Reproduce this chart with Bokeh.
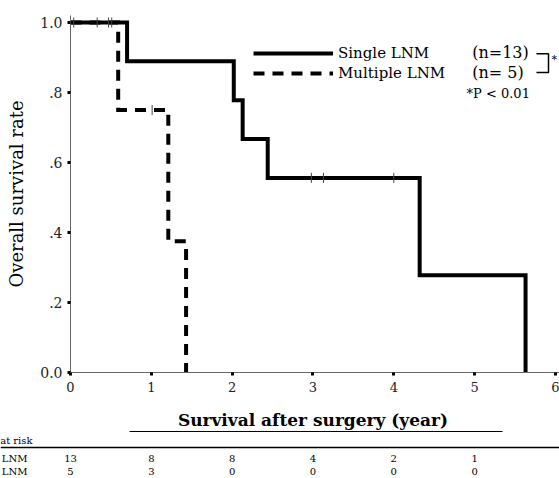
import numpy as np
from bokeh.plotting import figure
from bokeh.models import Range1d, FixedTicker, Legend, LegendItem, Label, PolyAnnotation
from bokeh.layouts import column
from bokeh.core.properties import value
from bokeh.embed import file_html
from bokeh.resources import INLINE

# ---- data ----
single_times = [0.0, 0.70, 2.02, 2.13, 2.44, 4.32, 5.63]
single_surv = [1.0, 0.889, 0.778, 0.667, 0.556, 0.278, 0.0]
multiple_times = [0.0, 0.59, 1.21, 1.43]
multiple_surv = [1.0, 0.75, 0.375, 0.0]
single_censor_times = [0.04, 0.33, 0.47, 0.51, 2.98, 3.13, 4.00]
single_censor_surv = [1.0, 1.0, 1.0, 1.0, 0.556, 0.556, 0.556]
multiple_censor_times = [1.01]
multiple_censor_surv = [0.75]
year_ticks = [0, 1, 2, 3, 4, 5, 6]
surv_ticks = [0.0, 0.2, 0.4, 0.6, 0.8, 1.0]
surv_tick_labels = ["0.0", ".2", ".4", ".6", ".8", "1.0"]
risk_years = [0, 1, 2, 3, 4, 5]
risk_single = [13, 8, 8, 4, 2, 1]
risk_multiple = [5, 3, 0, 0, 0, 0]
group_labels = ["Single LNM", "Multiple LNM"]
group_n = ["(n=13)", "(n= 5)"]
p_text = "*P < 0.01"
x_title = "Survival after surgery (year)"
y_title = "Overall survival rate"
risk_title = "Number at risk"

FONT = "DejaVu Serif"

# ---- main KM plot ----
p = figure(width=559, height=400, x_range=Range1d(0, 6.05), y_range=Range1d(0, 1.02),
           output_backend="svg", toolbar_location=None,
           min_border_left=70, min_border_right=0, min_border_top=15, min_border_bottom=28)
p.frame_align = False
p.outline_line_color = None
p.grid.visible = False
p.background_fill_color = "white"
p.border_fill_color = "white"

r1 = p.step(single_times, single_surv, mode="after", line_width=4, line_color="black",
            line_join="miter")
r2 = p.step(multiple_times, multiple_surv, mode="after", line_width=4, line_color="black",
            line_dash="11 8", line_join="miter")
p.scatter(single_censor_times, single_censor_surv, marker="dash", angle=np.pi / 2, size=10,
          line_color="#444444", line_width=1)
p.scatter(multiple_censor_times, multiple_censor_surv, marker="dash", angle=np.pi / 2, size=10,
          line_color="#444444", line_width=1)

legend = Legend(items=[LegendItem(label=group_labels[0], renderers=[r1]),
                       LegendItem(label=group_labels[1], renderers=[r2])],
                location=(183, 289), glyph_width=80, glyph_height=20, label_height=20,
                spacing=0, padding=0, margin=0, label_standoff=5,
                border_line_alpha=0, background_fill_alpha=0,
                label_text_font=FONT, label_text_font_size="15px", label_text_color="black")
p.add_layout(legend)

for txt, yy in zip(group_n, [0.914, 0.857]):
    p.add_layout(Label(x=4.97, y=yy, text=txt, text_baseline="middle", text_font=FONT,
                       text_font_size="16px", text_color="black"))
p.add_layout(PolyAnnotation(xs=[5.765, 5.914, 5.914, 5.765, 5.914, 5.914],
                            ys=[0.911, 0.911, 0.857, 0.857, 0.857, 0.911],
                            fill_alpha=0, line_color="black", line_alpha=1.0, line_width=1.5))
p.add_layout(Label(x=5.95, y=0.893, text="*", text_baseline="middle", text_font=FONT,
                   text_font_size="11px", text_color="black"))
p.add_layout(Label(x=4.90, y=0.797, text=p_text, text_baseline="middle", text_font=FONT,
                   text_font_size="13px", text_color="black"))

# axes
p.xaxis.ticker = FixedTicker(ticks=year_ticks)
p.yaxis.ticker = FixedTicker(ticks=surv_ticks)
p.yaxis.major_label_overrides = dict(zip(surv_ticks, surv_tick_labels))
for ax in (p.xaxis, p.yaxis):
    ax.axis_line_color = "#666666"
    ax.axis_line_width = 1
    ax.major_tick_line_color = "black"
    ax.major_tick_line_width = 3
    ax.major_tick_out = 3
    ax.major_tick_in = 0
    ax.minor_tick_line_color = None
    ax.major_label_text_font = FONT
    ax.major_label_text_color = "#222222"
p.xaxis.major_label_text_font_size = "13px"
p.xaxis.major_label_standoff = 6
p.yaxis.major_label_text_font_size = "14px"
p.yaxis.major_label_standoff = 5
p.yaxis.axis_label = y_title
p.yaxis.axis_label_text_font = FONT
p.yaxis.axis_label_text_font_size = "18px"
p.yaxis.axis_label_text_font_style = "normal"
p.yaxis.axis_label_text_color = "black"
p.yaxis.axis_label_standoff = 10

# ---- axis title + number at risk table ----
p2 = figure(width=559, height=78, x_range=Range1d(-0.866, 6.05), y_range=Range1d(78, 0),
            output_backend="svg", toolbar_location=None,
            x_axis_location=None, y_axis_location=None,
            min_border_left=0, min_border_right=0, min_border_top=0, min_border_bottom=0)
p2.frame_align = False
p2.outline_line_color = None
p2.grid.visible = False

p2.text(x=[3.0], y=[19], text=[x_title], text_font=value(FONT), text_font_style="bold",
        text_font_size="17px", text_align="center", text_baseline="middle",
        text_color="black")
p2.segment(x0=[0.73], y0=[31], x1=[5.345], y1=[31], line_width=1, line_color="black")
p2.text(x=[-0.47], y=[40], text=[risk_title], text_font=value(FONT), text_font_size="10px",
        text_align="right", text_baseline="middle", text_color="black")
p2.segment(x0=[-0.866], y0=[47], x1=[6.05], y1=[47], line_width=1.3, line_color="black")
p2.text(x=[-0.532, -0.532], y=[58, 71], text=group_labels, text_font=value(FONT),
        text_font_size="10px", text_align="right", text_baseline="middle", text_color="black")
p2.text(x=risk_years, y=[58] * len(risk_years), text=[str(v) for v in risk_single],
        text_font=value(FONT), text_font_size="10px", text_align="center",
        text_baseline="middle", text_color="black")
p2.text(x=risk_years, y=[71] * len(risk_years), text=[str(v) for v in risk_multiple],
        text_font=value(FONT), text_font_size="10px", text_align="center",
        text_baseline="middle", text_color="black")

layout = column(p, p2, spacing=0)
open("out.html", "w").write(file_html(layout, INLINE))
